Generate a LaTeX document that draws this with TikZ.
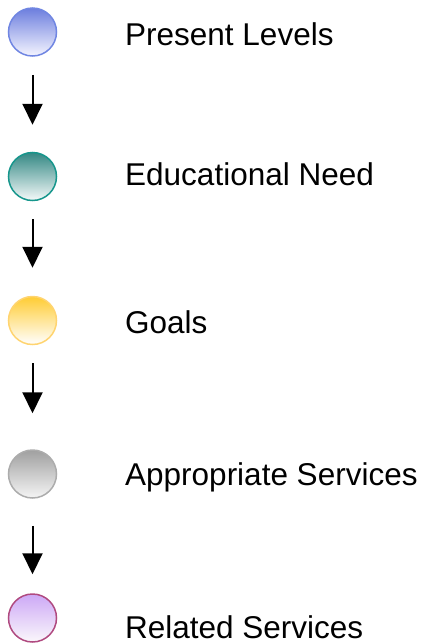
\documentclass[tikz,border=0pt]{standalone}
\usepackage{fontspec}
\setmainfont{Liberation Sans}
\usepackage{xcolor}
\usepackage{tikz}
\usetikzlibrary{arrows.meta,positioning}

\definecolor{blueTop}{RGB}{108,126,222}
\definecolor{blueLine}{RGB}{112,134,226}
\definecolor{tealTop}{RGB}{52,136,132}
\definecolor{tealLine}{RGB}{22,150,140}
\definecolor{goldTop}{RGB}{255,204,51}
\definecolor{goldLine}{RGB}{255,212,112}
\definecolor{greyTop}{RGB}{160,160,160}
\definecolor{greyLine}{RGB}{172,172,172}
\definecolor{lilacTop}{RGB}{204,168,246}
\definecolor{lilacLine}{RGB}{176,74,128}

\begin{document}
\begin{tikzpicture}[
    x=1pt, y=-1pt,
    dot/.style={circle, draw, line width=1.5pt, minimum size=48pt, inner sep=0pt},
    lbl/.style={anchor=base west, inner sep=0pt, font=\fontsize{31.5}{36}\selectfont},
    arrow/.style={-{Triangle[length=21pt,width=20pt]}, line width=2pt}
]
\useasboundingbox (0,0) rectangle (425,643);

% Add flow of steps here
\node[dot, draw=blueLine, top color=blueTop, bottom color=blue!4] (present) at (32.5,32) {};
\node[dot, draw=tealLine, top color=tealTop, bottom color=teal!4] (need) at (32.5,176.5) {};
\node[dot, draw=goldLine, top color=goldTop, bottom color=white] (goals) at (32.5,320.5) {};
\node[dot, draw=greyLine, top color=greyTop, bottom color=black!4] (services) at (32.5,474) {};
\node[dot, draw=lilacLine, top color=lilacTop, bottom color=violet!3] (related) at (32.5,618) {};

\node[lbl] (presentTxt) at (125,45) {Present Levels};
\node[lbl] (needTxt) at (125,185) {Educational Need};
\node[lbl] (goalsTxt) at (125,333) {Goals};
\node[lbl] (servicesTxt) at (125,485) {Appropriate Services};
\node[lbl] (relatedTxt) at (125,638) {Related Services};

\draw[arrow, shorten <=18pt, shorten >=27pt] (present.south) -- (need.north);
\draw[arrow, shorten <=18pt, shorten >=28pt] (need.south) -- (goals.north);
\draw[arrow, shorten <=18pt, shorten >=36pt] (goals.south) -- (services.north);
\draw[arrow, shorten <=27pt, shorten >=19pt] (services.south) -- (related.north);
\end{tikzpicture}
\end{document}
